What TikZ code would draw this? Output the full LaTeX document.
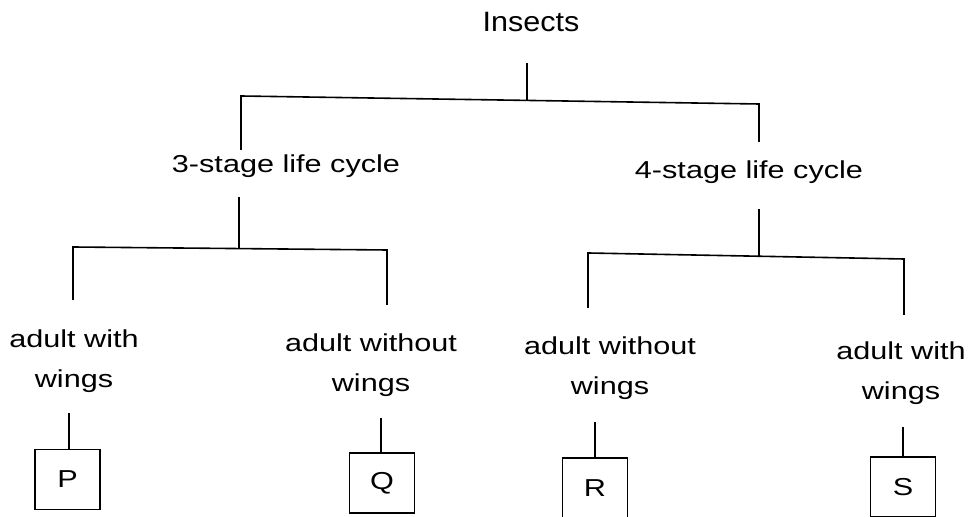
\documentclass[tikz,border=0pt]{standalone}
\usepackage{fontspec}
\setmainfont[FakeStretch=1.25]{Liberation Sans}
\newfontfamily\topfont[FakeStretch=1.09]{Liberation Sans}

\begin{document}
\begin{tikzpicture}[x=0.5pt, y=-0.5pt, line width=0.8pt]
	\tikzstyle{every node} = [font=\fontsize{12.25}{20}\selectfont, inner sep=0pt]
	\tikzstyle{label} = [anchor=base, align=center]
	\tikzstyle{box} = [draw, rectangle, line width=0.6pt, minimum width=32.5pt, minimum height=30pt]
	\useasboundingbox (0,0) rectangle (971,517);
	% top level
	\node[label, font=\topfont\fontsize{14}{20}\selectfont] (ins) at (531,32) {Insects};
	\node[label] (three) at (286,173) {3-stage life cycle};
	\node[label] (four)  at (749,179) {4-stage life cycle};
	\coordinate (insT) at (527,63);
	\coordinate (insB) at (527,100);
	\coordinate (ta)   at (241,96);
	\coordinate (tb)   at (759,104);
	\coordinate (threeT) at (241,150);
	\coordinate (fourT)  at (759,142);
	\draw (insT) -- (insB);
	\draw (threeT) -- (ta) -- (tb) -- (fourT);
	% 3-stage branch
	\node[label] (pw) at (74,388)  {adult with\\wings};
	\node[label] (qw) at (371,392) {adult without\\wings};
	\coordinate (threeB) at (239,197);
	\coordinate (threeJ) at (239,248);
	\coordinate (la) at (73,247);
	\coordinate (lb) at (387,250);
	\coordinate (pwT) at (73,300);
	\coordinate (qwT) at (387,305);
	\draw (threeB) -- (threeJ);
	\draw (pwT) -- (la) -- (lb) -- (qwT);
	% 4-stage branch
	\node[label] (rw) at (610,395) {adult without\\wings};
	\node[label] (sw) at (901,400) {adult with\\wings};
	\coordinate (fourB) at (759,209);
	\coordinate (fourJ) at (759,256);
	\coordinate (ra) at (588,253);
	\coordinate (rb) at (904,259);
	\coordinate (rwT) at (588,308);
	\coordinate (swT) at (904,315);
	\draw (fourB) -- (fourJ);
	\draw (rwT) -- (ra) -- (rb) -- (swT);
	% boxes
	\node[box] (p) at (67.5,479.5) {P};
	\node[box] (q) at (382,483)    {Q};
	\node[box] (r) at (595,488)    {R};
	\node[box] (s) at (903,487)    {S};
	\coordinate (pT) at (69,413);
	\coordinate (qT) at (381,418);
	\coordinate (rT) at (595,422);
	\coordinate (sT) at (903,427);
	\draw (pT) -- (pT |- p.north);
	\draw (qT) -- (qT |- q.north);
	\draw (rT) -- (rT |- r.north);
	\draw (sT) -- (sT |- s.north);
\end{tikzpicture}
\end{document}
